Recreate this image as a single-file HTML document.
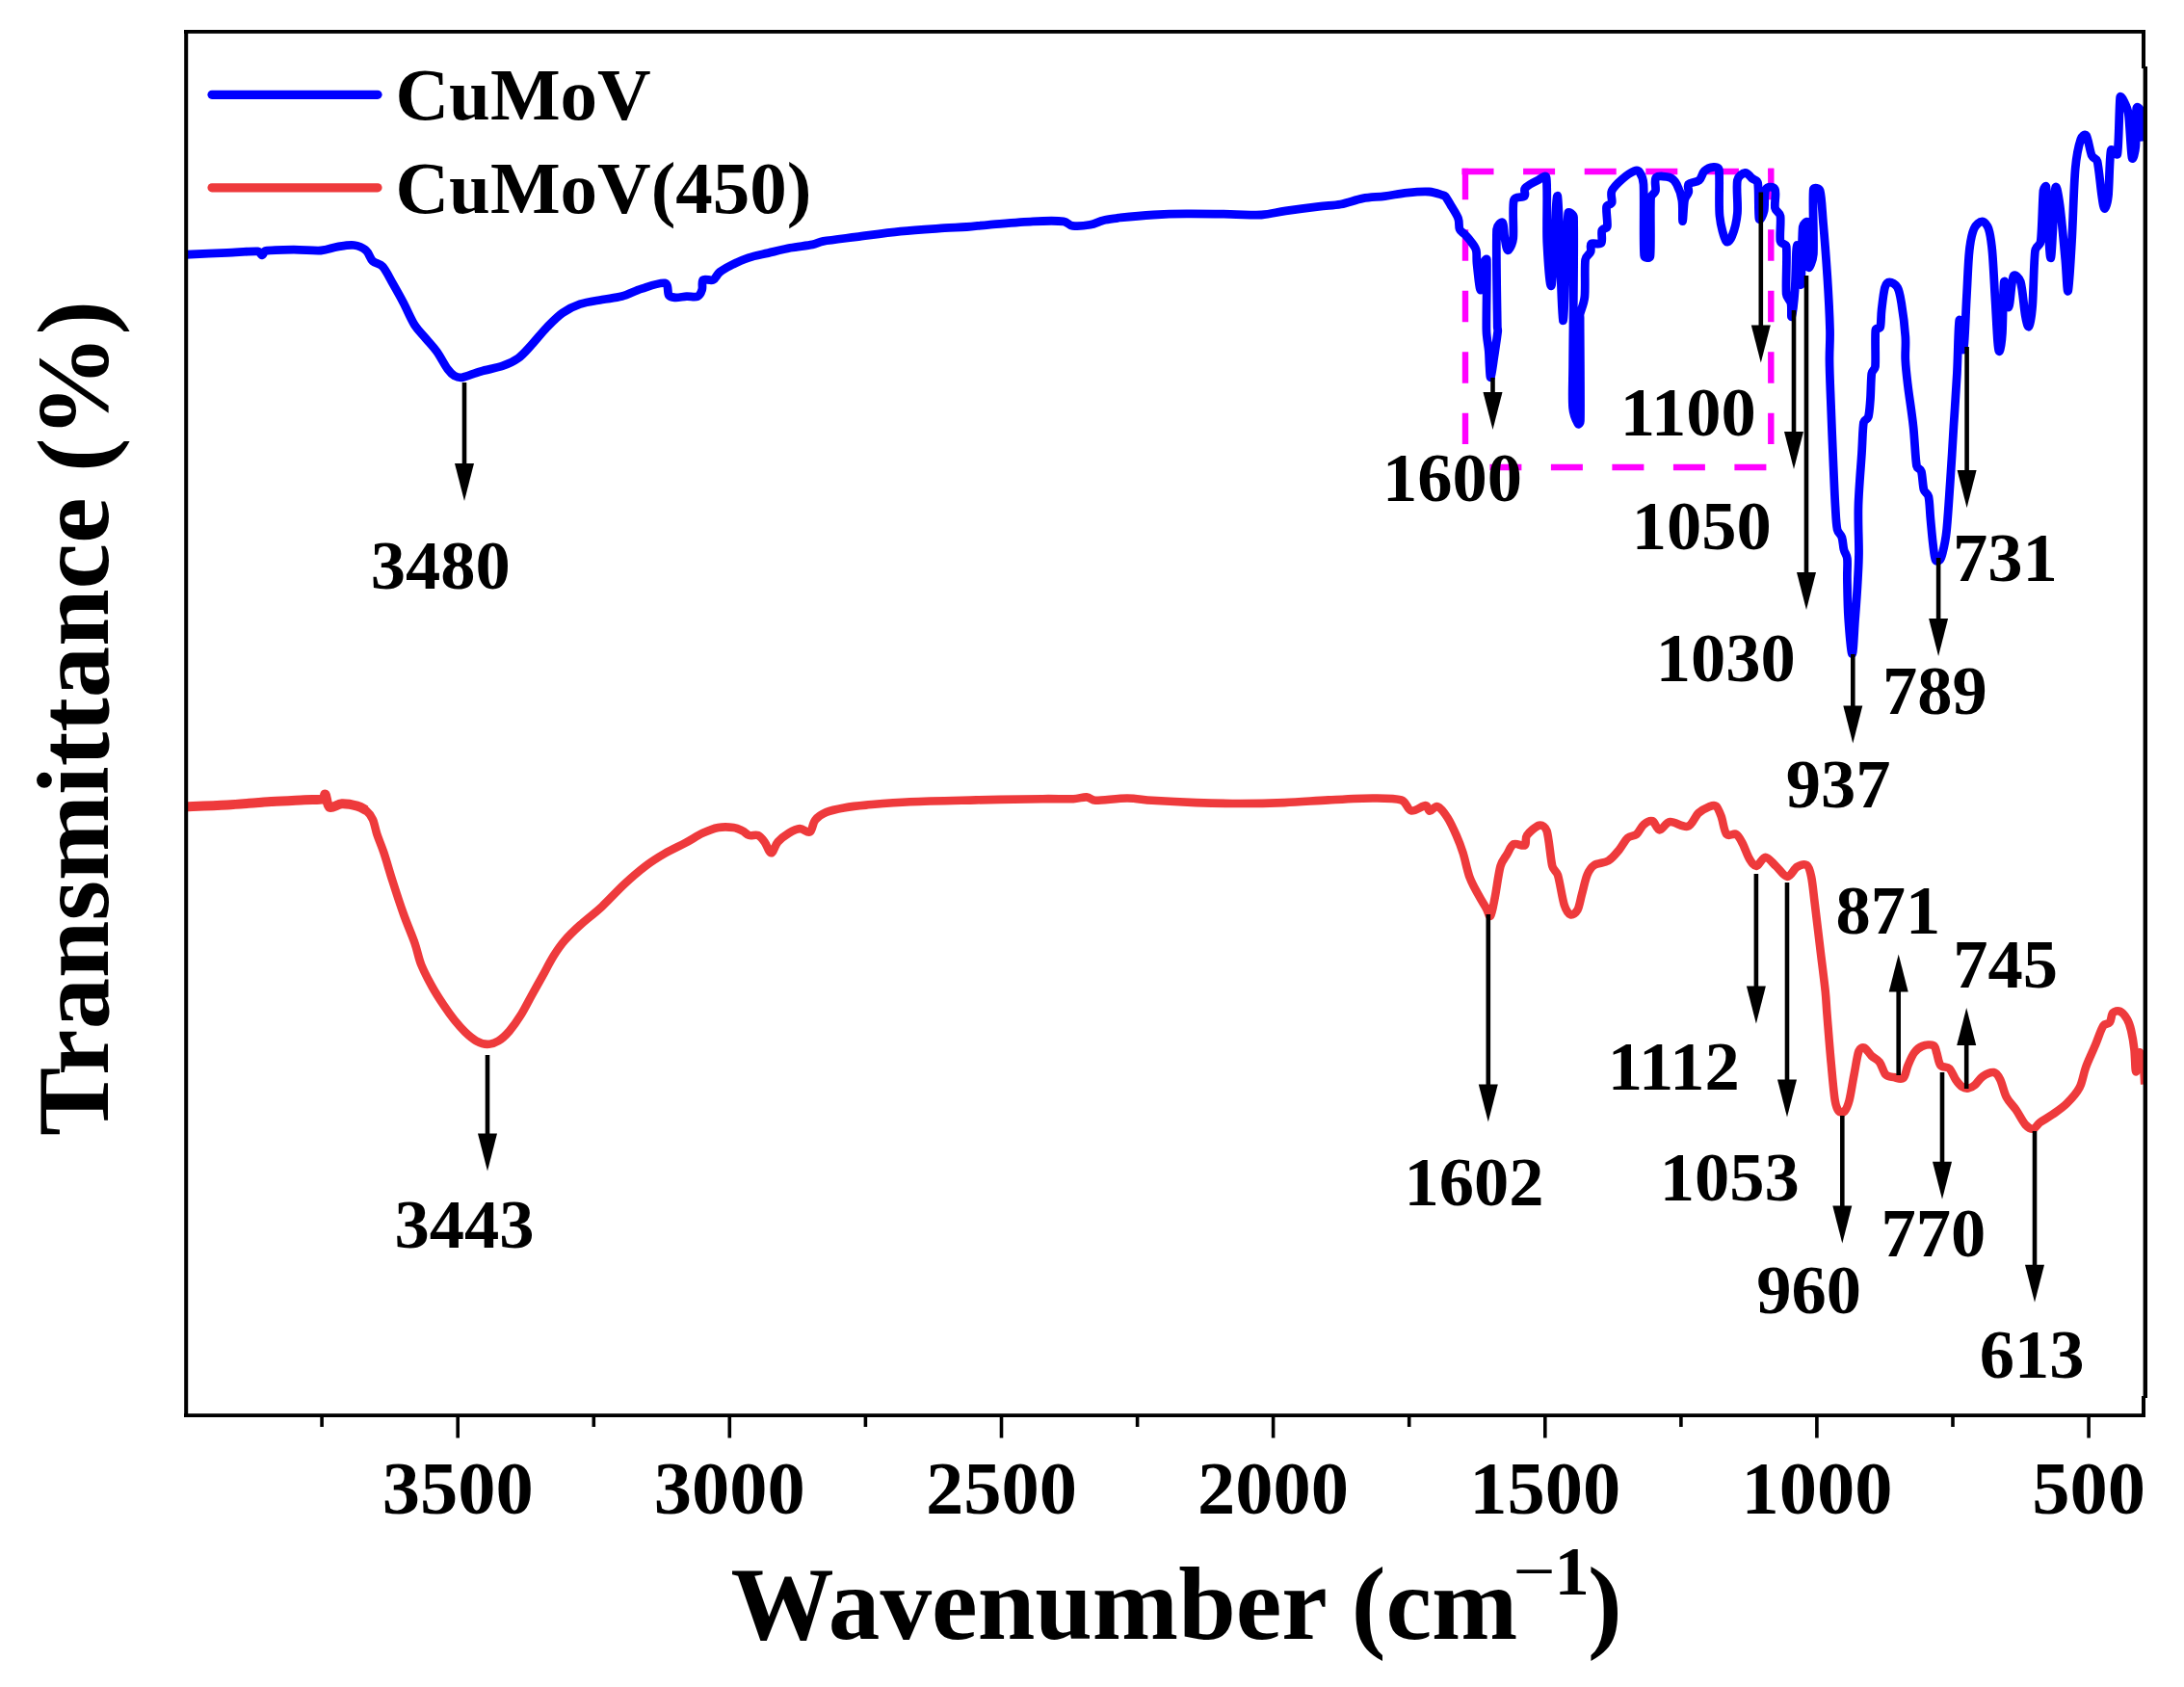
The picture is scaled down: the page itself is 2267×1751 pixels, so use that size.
<!DOCTYPE html>
<html><head><meta charset="utf-8"><title>FTIR spectra</title>
<style>
html,body{margin:0;padding:0;background:#fff;}
svg{display:block;}
text{font-family:"Liberation Serif","Times New Roman",serif;font-weight:bold;fill:#000;}
.ann{font-size:72.5px;text-anchor:middle;}
.tick{font-size:78.5px;text-anchor:middle;}
.leg{font-size:77px;}
.axl{font-size:107.2px;}
.sup{font-size:72.5px;}
.axy{font-size:106.8px;}
</style></head><body>
<svg width="2267" height="1751" viewBox="0 0 2267 1751">
<rect width="2267" height="1751" fill="#fff"/>
<!-- magenta dashed box -->
<g stroke="#ff00ff" stroke-width="6.4" fill="none">
<line x1="1517.5" y1="178" x2="1841" y2="178" stroke-dasharray="33 30.6"/>
<line x1="1521" y1="174.7" x2="1521" y2="461" stroke-dasharray="32.5 31"/>
<line x1="1838.3" y1="174.7" x2="1838.3" y2="461" stroke-dasharray="32.5 31"/>
<line x1="1546.4" y1="485" x2="1834" y2="485" stroke-dasharray="33 30.5"/>
</g>
<!-- curves -->
<clipPath id="plotclip"><rect x="193" y="33" width="2033.5" height="1436"/></clipPath>
<g clip-path="url(#plotclip)">
<path d="M191.8,837.3 C199.1,837.0 220.8,836.4 235.8,835.5 C250.8,834.6 268.2,833.0 281.6,832.1 C295.0,831.2 306.9,830.7 315.9,830.2 C323.7,829.8 331.8,830.2 335.4,829.3 C337.4,828.8 336.6,823.3 337.7,824.7 C338.8,826.1 339.3,836.2 342.2,837.8 C345.1,839.4 350.0,834.5 354.8,834.3 C359.6,834.1 366.7,835.5 370.9,836.6 C374.8,837.7 378.5,840.4 380.0,841.2" fill="none" stroke="#ee3a3c" stroke-width="10" stroke-linejoin="round"/>
<path d="M191.8,837.3 C199.1,837.0 220.8,836.4 235.8,835.5 C250.8,834.6 268.2,833.0 281.6,832.1 C295.0,831.2 306.9,830.7 315.9,830.2 C323.7,829.8 331.8,830.2 335.4,829.3 C337.4,828.8 336.6,823.3 337.7,824.7 C338.8,826.1 339.3,836.2 342.2,837.8 C345.1,839.4 350.0,834.5 354.8,834.3 C359.6,834.1 366.7,835.5 370.9,836.6 C374.8,837.7 377.3,838.9 380.0,841.2 C382.7,843.5 385.0,846.2 386.9,850.4 C388.8,854.6 389.6,860.7 391.5,866.4 C393.4,872.1 395.8,877.3 398.3,884.7 C401.0,892.7 404.1,903.8 407.5,914.5 C410.9,925.2 415.1,938.1 418.9,948.8 C422.7,959.5 427.3,969.8 430.4,978.6 C433.5,987.4 434.2,993.9 437.3,1001.5 C440.4,1009.1 444.9,1017.5 448.7,1024.4 C452.5,1031.3 456.3,1037.0 460.1,1042.7 C463.9,1048.4 467.8,1053.9 471.6,1058.7 C475.4,1063.5 479.2,1067.7 483.0,1071.3 C486.8,1074.9 490.7,1078.3 494.5,1080.4 C498.3,1082.5 502.1,1083.9 505.9,1083.9 C509.7,1083.9 513.6,1082.7 517.4,1080.4 C521.2,1078.1 525.0,1074.5 528.8,1070.1 C532.6,1065.7 536.5,1060.2 540.3,1054.1 C544.1,1048.0 547.9,1040.4 551.7,1033.5 C555.5,1026.6 559.4,1019.8 563.2,1012.9 C567.0,1006.0 570.8,998.4 574.6,992.3 C578.4,986.2 581.5,981.6 586.1,976.3 C590.7,971.0 595.6,966.2 602.1,960.3 C608.6,954.4 617.4,947.9 625.0,940.8 C632.6,933.7 640.3,925.0 647.9,917.9 C655.5,910.8 663.8,903.7 670.8,898.4 C677.8,893.1 683.3,889.8 690.0,885.9 C696.7,882.0 704.6,878.5 711.2,875.0 C717.8,871.5 723.8,867.4 729.5,864.7 C735.2,862.0 740.1,860.0 745.5,859.0 C750.9,858.0 757.4,858.4 761.6,859.0 C765.5,859.5 768.0,861.1 770.7,862.4 C773.4,863.7 774.9,866.2 777.6,867.0 C780.3,867.8 784.1,865.9 786.8,867.0 C789.5,868.1 791.3,870.9 793.6,873.9 C795.9,876.9 798.2,885.3 800.5,885.3 C802.8,885.3 804.4,877.3 807.4,873.9 C810.4,870.5 815.0,867.0 818.8,864.7 C822.6,862.4 826.7,860.3 830.3,860.1 C833.9,859.9 837.9,865.1 840.6,863.6 C843.3,862.1 843.4,854.4 846.3,851.0 C849.1,847.6 852.8,845.1 857.7,843.0 C862.7,840.9 869.1,839.6 876.0,838.4 C882.9,837.2 889.7,836.4 898.9,835.6 C910.4,834.6 926.3,833.0 944.7,832.2 C963.8,831.3 990.5,830.9 1013.4,830.4 C1036.3,829.9 1065.3,829.4 1082.1,829.2 C1094.9,829.0 1106.5,829.5 1114.1,829.2 C1119.7,829.0 1124.1,827.1 1127.9,827.4 C1131.7,827.7 1133.1,830.7 1137.0,830.8 C1144.0,831.0 1160.2,828.5 1170.0,828.5 C1179.8,828.5 1185.5,830.1 1195.8,830.8 C1207.7,831.6 1226.3,832.6 1241.6,833.1 C1256.9,833.6 1272.1,834.0 1287.4,834.0 C1302.7,834.0 1318.0,833.7 1333.2,833.1 C1348.5,832.5 1363.7,831.2 1378.9,830.4 C1394.2,829.6 1412.1,828.5 1424.7,828.5 C1436.6,828.5 1447.8,828.2 1454.5,830.4 C1460.2,832.2 1460.6,840.4 1464.8,841.4 C1469.0,842.4 1476.5,836.0 1479.7,836.1 C1482.6,836.2 1482.1,841.6 1484.2,841.8 C1486.3,842.0 1489.2,836.1 1492.3,837.2 C1495.4,838.4 1499.4,843.7 1502.6,848.7 C1505.8,853.7 1509.0,860.9 1511.7,867.0 C1514.4,873.1 1516.3,878.0 1518.6,885.3 C1520.9,892.5 1522.8,903.2 1525.5,910.5 C1528.2,917.8 1531.8,923.5 1534.6,928.8 C1537.4,934.1 1540.5,938.9 1542.6,942.5 C1544.5,945.7 1545.7,952.5 1547.2,950.6 C1548.7,948.7 1550.2,939.0 1551.8,931.1 C1553.5,922.5 1555.4,906.4 1557.5,899.0 C1559.1,893.5 1562.1,890.3 1564.4,886.5 C1566.7,882.7 1568.2,877.7 1571.2,876.2 C1574.2,874.7 1580.4,878.8 1582.7,877.3 C1585.0,875.8 1582.5,870.4 1585.0,867.0 C1587.5,863.6 1594.2,857.5 1597.6,856.7 C1601.0,855.9 1604.4,858.7 1605.6,862.4 C1607.9,869.4 1609.4,891.4 1611.3,899.0 C1612.3,903.2 1615.7,904.1 1617.0,908.2 C1619.1,914.9 1621.5,932.4 1623.7,939.2 C1625.2,943.8 1627.8,948.4 1630.1,949.3 C1632.4,950.2 1635.7,947.7 1637.4,944.7 C1639.4,941.2 1640.3,934.3 1642.0,928.2 C1643.7,922.1 1645.4,913.1 1647.5,908.1 C1649.4,903.5 1651.1,900.5 1654.8,898.0 C1658.5,895.5 1665.2,896.0 1669.5,893.4 C1673.8,890.8 1677.1,886.4 1680.4,882.4 C1683.8,878.4 1686.5,872.4 1689.6,869.6 C1692.6,867.0 1696.0,868.2 1698.8,865.9 C1701.5,863.6 1703.4,858.2 1706.1,855.9 C1708.8,853.6 1712.5,851.3 1715.2,852.2 C1718.0,853.1 1719.5,861.2 1722.6,861.4 C1725.7,861.5 1728.7,853.7 1733.6,853.1 C1738.5,852.5 1747.0,859.2 1751.9,857.7 C1756.8,856.2 1759.2,847.4 1762.9,844.0 C1766.6,840.6 1770.8,838.7 1773.8,837.5 C1776.6,836.4 1779.0,834.9 1781.2,836.6 C1783.4,838.3 1785.0,843.0 1786.7,847.6 C1788.5,852.5 1789.6,862.9 1792.2,865.9 C1794.8,868.9 1799.5,864.4 1802.2,865.9 C1804.9,867.4 1806.5,871.2 1808.6,875.1 C1810.9,879.4 1813.5,887.6 1816.0,891.6 C1818.2,895.1 1820.5,899.2 1823.3,898.9 C1826.0,898.6 1829.2,889.7 1832.5,889.7 C1835.8,889.7 1839.6,895.5 1843.4,898.9 C1847.2,902.3 1851.6,909.8 1855.3,909.9 C1859.0,910.0 1862.0,901.8 1865.4,899.8 C1868.8,897.8 1873.0,896.3 1875.5,898.0 C1878.0,899.7 1879.1,904.9 1880.1,909.9 C1881.5,916.5 1882.3,926.4 1883.7,937.4 C1885.2,949.6 1887.4,968.0 1889.2,983.2 C1891.0,998.5 1893.5,1017.3 1894.7,1028.9 C1895.7,1038.5 1895.7,1043.4 1896.5,1053.0 C1897.5,1065.2 1899.2,1087.6 1900.6,1102.4 C1902.0,1117.2 1903.3,1133.5 1904.7,1142.0 C1905.5,1146.8 1907.2,1151.6 1908.8,1153.5 C1910.3,1155.3 1913.0,1155.2 1914.6,1153.5 C1916.4,1151.6 1918.3,1146.9 1919.6,1142.0 C1921.2,1135.7 1922.8,1124.1 1924.5,1115.6 C1926.2,1107.1 1927.7,1095.6 1929.5,1090.9 C1930.4,1088.4 1933.0,1086.8 1935.2,1087.6 C1937.4,1088.4 1940.0,1093.3 1942.6,1095.8 C1945.2,1098.3 1948.4,1099.1 1950.9,1102.4 C1953.4,1105.7 1955.0,1113.0 1957.5,1115.6 C1959.9,1118.1 1962.7,1117.5 1965.7,1118.1 C1968.7,1118.6 1973.1,1121.0 1975.6,1118.9 C1978.1,1116.8 1978.6,1110.1 1980.5,1105.7 C1982.4,1101.3 1984.6,1095.8 1987.1,1092.5 C1989.6,1089.2 1992.1,1087.1 1995.4,1085.9 C1998.7,1084.7 2004.4,1084.0 2006.9,1085.1 C2009.4,1086.2 2009.1,1089.4 2010.2,1092.5 C2011.4,1095.9 2012.1,1103.0 2014.3,1105.7 C2016.5,1108.5 2020.8,1106.5 2023.4,1109.0 C2026.0,1111.5 2027.8,1117.3 2030.0,1120.5 C2032.2,1123.7 2034.4,1126.5 2036.6,1128.0 C2038.8,1129.5 2041.0,1129.9 2043.2,1129.6 C2045.4,1129.3 2047.5,1128.2 2049.8,1126.3 C2052.3,1124.2 2054.7,1119.5 2058.0,1117.3 C2061.3,1115.1 2066.6,1112.6 2069.6,1113.1 C2072.6,1113.6 2074.4,1117.0 2076.2,1120.5 C2078.4,1124.8 2080.0,1133.5 2082.7,1138.7 C2085.4,1143.9 2089.3,1147.1 2092.6,1151.9 C2095.9,1156.7 2099.5,1164.2 2102.5,1167.5 C2105.0,1170.2 2108.3,1172.0 2110.8,1171.6 C2113.3,1171.2 2114.4,1167.3 2117.4,1165.1 C2120.7,1162.6 2125.8,1160.1 2130.5,1156.8 C2135.2,1153.5 2140.7,1150.0 2145.4,1145.3 C2150.1,1140.6 2155.3,1135.1 2158.6,1128.8 C2161.9,1122.5 2162.4,1114.8 2165.2,1107.4 C2167.9,1100.0 2172.1,1091.5 2175.1,1084.3 C2178.1,1077.1 2180.8,1068.3 2183.3,1064.5 C2184.9,1062.0 2188.2,1063.4 2189.9,1061.2 C2191.6,1059.0 2191.4,1053.2 2193.2,1051.3 C2195.0,1049.4 2198.1,1048.6 2200.6,1049.7 C2203.1,1050.8 2206.1,1054.6 2208.0,1057.9 C2209.9,1061.2 2211.0,1064.7 2212.1,1069.5 C2213.3,1074.7 2214.6,1082.1 2215.4,1089.2 C2216.2,1096.3 2216.3,1111.8 2217.1,1112.3 C2217.9,1112.8 2219.2,1094.2 2220.4,1092.5 C2221.6,1090.8 2223.8,1098.2 2224.5,1102.4 C2225.5,1107.9 2225.9,1121.7 2226.2,1125.5" fill="none" stroke="#ee3a3c" stroke-width="8.6" stroke-linejoin="round" stroke-linecap="butt"/>
<path d="M191.8,264.3 C199.1,264.0 223.1,262.9 235.8,262.3 C248.5,261.7 261.8,260.5 267.8,260.9 C270.1,261.1 270.6,264.9 272.0,264.8 C273.4,264.7 273.6,260.8 275.9,260.4 C281.3,259.4 295.0,259.2 304.5,259.1 C314.0,259.0 325.5,260.5 333.1,260.0 C340.1,259.5 344.6,257.0 350.3,256.1 C356.0,255.2 362.4,253.8 367.4,254.5 C372.3,255.2 376.8,257.2 380.0,260.0 C383.2,262.8 384.0,268.2 386.9,271.0 C389.8,273.8 394.1,273.2 397.2,276.7 C400.6,280.5 403.9,287.6 407.5,293.9 C411.1,300.2 415.1,307.2 418.9,314.5 C422.7,321.8 426.6,331.3 430.4,337.4 C434.2,343.4 438.0,346.5 441.8,351.1 C445.6,355.7 449.5,359.5 453.3,364.8 C457.1,370.1 461.6,379.0 464.7,383.2 C467.0,386.3 469.1,388.6 471.6,390.0 C474.1,391.4 476.4,392.3 479.6,391.8 C484.2,391.0 492.0,387.4 499.1,385.4 C506.2,383.4 515.5,382.0 522.0,379.7 C528.5,377.4 533.0,375.3 538.0,371.7 C543.0,368.1 546.8,363.3 551.7,358.0 C556.7,352.7 562.4,345.2 567.7,339.7 C573.1,334.2 578.1,328.8 583.8,324.8 C589.5,320.8 595.2,317.9 602.1,315.6 C609.0,313.3 617.8,312.3 625.0,311.0 C632.2,309.7 638.7,309.5 645.6,307.6 C652.5,305.7 658.8,301.9 666.2,299.6 C673.6,297.3 685.3,292.8 690.0,293.9 C694.7,295.0 692.4,304.0 694.3,306.5 C696.0,308.8 698.3,308.6 701.2,308.8 C704.3,309.0 708.9,307.9 712.7,307.7 C716.5,307.5 721.4,308.8 724.1,307.7 C726.8,306.6 727.8,303.7 728.7,300.8 C729.7,297.9 727.9,292.2 729.8,290.5 C731.7,288.8 737.2,291.8 740.1,290.5 C743.0,289.2 744.0,285.0 747.0,282.5 C750.0,280.0 753.6,278.0 758.4,275.6 C763.4,273.1 770.3,269.8 776.8,267.6 C783.3,265.4 790.1,264.3 797.4,262.6 C804.6,260.9 812.7,258.8 820.3,257.3 C827.9,255.9 837.5,255.1 843.2,253.9 C847.9,253.0 849.9,251.2 854.6,250.4 C862.2,249.1 875.5,247.6 888.9,245.9 C902.2,244.2 919.4,241.6 934.7,240.1 C950.0,238.6 969.0,237.5 980.5,236.7 C989.7,236.1 995.8,236.1 1003.4,235.5 C1011.0,234.9 1017.1,234.1 1026.3,233.3 C1037.8,232.4 1059.1,230.4 1072.1,229.8 C1084.9,229.2 1097.2,229.0 1104.1,229.8 C1108.2,230.3 1109.2,233.9 1113.3,234.4 C1117.9,235.0 1126.3,234.3 1131.6,233.3 C1136.9,232.3 1140.6,229.8 1145.3,228.7 C1150.0,227.5 1157.1,226.9 1160.0,226.4 C1161.2,226.2 1161.7,225.9 1162.9,225.8 C1169.1,225.2 1185.8,223.7 1197.2,223.0 C1208.7,222.3 1218.2,222.0 1231.6,221.9 C1245.0,221.8 1264.4,222.1 1277.4,222.3 C1290.2,222.5 1299.9,223.6 1309.4,223.0 C1318.9,222.4 1324.7,220.3 1334.6,218.9 C1344.5,217.5 1359.4,215.5 1368.9,214.3 C1378.0,213.2 1384.2,213.4 1391.8,212.0 C1399.4,210.6 1407.1,207.3 1414.7,205.9 C1422.3,204.5 1430.0,204.6 1437.6,203.6 C1445.2,202.6 1452.9,200.9 1460.5,200.1 C1468.1,199.3 1477.3,198.6 1483.4,199.0 C1489.0,199.4 1494.3,201.6 1497.1,202.4 C1498.3,202.7 1499.2,202.6 1500.0,203.6 C1501.6,205.6 1504.6,210.7 1506.9,214.6 C1509.2,218.5 1512.3,223.0 1513.7,226.9 C1515.1,230.8 1513.9,235.2 1515.1,237.9 C1516.2,240.7 1518.5,241.1 1520.6,243.4 C1522.7,245.7 1525.5,248.8 1527.5,251.6 C1529.5,254.3 1531.4,256.2 1532.3,259.9 C1533.2,263.6 1532.4,268.1 1533.0,273.6 C1533.8,280.5 1535.7,301.1 1536.8,301.1 C1537.9,301.1 1538.7,278.9 1539.8,273.6 C1540.2,271.5 1543.2,267.3 1543.3,269.5 C1543.8,280.9 1542.6,326.5 1542.9,342.3 C1543.1,351.2 1544.8,358.3 1545.3,364.3 C1545.8,369.8 1545.7,373.5 1546.0,378.1 C1546.3,382.7 1546.6,393.0 1547.4,391.8 C1548.2,390.6 1549.6,379.2 1550.8,371.2 C1552.0,363.2 1554.1,349.0 1554.7,343.7 C1554.9,342.1 1554.3,341.2 1554.3,339.6 C1554.1,322.0 1552.7,256.0 1553.6,237.9 C1553.8,234.2 1558.4,229.6 1559.8,231.0 C1561.2,232.4 1560.9,241.4 1561.8,246.2 C1562.7,251.0 1563.7,259.7 1565.2,259.9 C1566.7,260.1 1570.1,252.9 1570.7,247.5 C1571.7,238.8 1569.5,215.0 1571.4,207.7 C1572.6,203.2 1580.5,205.7 1582.4,203.6 C1584.4,201.5 1581.0,197.9 1583.1,195.3 C1585.4,192.6 1592.5,188.9 1596.2,187.1 C1599.5,185.4 1604.6,180.6 1605.1,184.3 C1606.7,195.1 1604.9,233.0 1605.8,251.6 C1606.7,269.3 1608.8,303.6 1610.6,295.6 C1612.4,287.6 1614.8,197.4 1616.8,203.6 C1618.8,209.8 1620.5,329.7 1622.3,332.7 C1624.1,335.7 1625.8,239.3 1627.7,221.4 C1628.0,218.6 1633.4,222.7 1633.5,225.5 C1634.3,251.9 1632.8,346.9 1632.6,379.9 C1632.5,397.3 1631.7,413.4 1632.6,423.4 C1633.2,430.3 1636.7,437.6 1638.0,439.9 C1638.7,441.2 1640.4,438.6 1640.4,437.1 C1640.8,418.8 1640.1,348.6 1640.1,330.0 C1640.1,328.3 1639.7,327.4 1640.1,325.8 C1640.9,322.1 1644.2,315.3 1644.9,308.0 C1645.8,298.6 1644.6,277.3 1645.6,269.5 C1646.1,265.6 1650.1,264.1 1651.1,261.3 C1652.1,258.6 1650.0,254.5 1651.8,253.0 C1653.6,251.5 1660.3,254.6 1662.1,252.3 C1663.9,250.0 1661.8,242.2 1662.8,239.3 C1663.7,236.7 1667.8,237.9 1668.3,235.2 C1669.1,231.1 1666.8,218.7 1667.6,214.6 C1668.1,211.9 1672.2,213.0 1673.1,210.4 C1674.0,207.7 1671.3,202.2 1673.1,198.1 C1674.9,194.0 1680.2,189.1 1684.1,185.7 C1688.0,182.3 1693.4,178.7 1696.4,177.5 C1698.5,176.7 1700.6,176.9 1701.9,178.8 C1703.5,181.1 1705.7,186.0 1706.0,191.2 C1706.8,205.6 1705.5,252.9 1706.7,265.4 C1706.9,267.9 1712.6,268.6 1712.9,266.1 C1714.1,256.0 1712.7,216.2 1713.6,204.9 C1713.9,201.6 1717.5,201.3 1718.4,198.1 C1719.3,194.7 1716.6,186.6 1719.1,184.3 C1721.6,182.0 1730.0,183.2 1733.5,184.3 C1737.0,185.5 1738.6,187.8 1740.4,191.2 C1742.5,195.1 1744.9,201.3 1745.9,207.7 C1746.9,214.1 1746.1,229.7 1746.6,229.7 C1747.0,229.7 1747.6,212.7 1748.6,207.7 C1749.3,204.1 1752.0,202.2 1752.7,199.5 C1753.4,196.8 1750.9,193.3 1752.7,191.2 C1754.5,189.1 1761.0,189.4 1763.7,187.1 C1766.5,184.8 1766.7,179.8 1769.2,177.5 C1771.7,175.2 1776.3,173.6 1778.8,173.4 C1781.2,173.2 1784.0,173.7 1784.3,176.1 C1785.3,184.6 1783.8,211.8 1785.0,224.2 C1786.1,234.9 1789.5,246.9 1791.7,250.3 C1793.5,253.1 1796.7,247.9 1797.9,244.8 C1799.9,240.0 1802.5,231.0 1803.4,221.4 C1804.3,211.8 1802.0,194.1 1803.4,187.1 C1804.3,182.7 1809.1,179.7 1811.6,179.3 C1814.1,179.0 1816.3,183.2 1818.5,185.0 C1820.7,186.8 1824.1,186.7 1824.6,189.8 C1825.8,196.8 1824.9,222.1 1826.0,226.9 C1826.8,230.7 1830.2,222.5 1831.1,218.7 C1832.2,213.7 1831.0,200.4 1832.9,196.7 C1834.7,193.3 1840.9,193.5 1842.5,196.7 C1844.1,199.9 1841.6,211.3 1842.5,215.9 C1843.3,219.8 1847.4,220.3 1848.0,224.2 C1848.9,229.9 1847.0,245.0 1848.0,250.3 C1848.6,253.6 1853.8,252.5 1854.2,255.8 C1855.2,264.9 1853.4,295.4 1854.2,305.2 C1854.5,309.5 1858.1,310.9 1859.0,314.8 C1859.9,318.7 1859.0,330.9 1859.7,328.6 C1860.4,326.3 1862.3,312.2 1863.1,301.1 C1864.0,288.7 1864.2,255.3 1865.2,254.4 C1866.2,253.5 1868.3,298.8 1869.3,295.6 C1870.3,292.4 1870.1,246.0 1871.3,235.2 C1871.6,232.6 1875.9,228.4 1876.2,231.0 C1877.1,237.9 1875.8,270.9 1876.8,276.4 C1877.8,281.7 1881.9,269.4 1882.3,264.0 C1883.2,250.7 1881.1,207.7 1882.3,196.7 C1882.6,193.9 1888.4,195.4 1889.2,198.1 C1890.9,204.1 1891.4,218.7 1892.6,232.4 C1893.9,247.3 1895.6,269.1 1896.8,287.4 C1898.0,305.7 1899.1,327.9 1899.5,342.3 C1899.8,354.9 1898.9,361.6 1899.0,373.7 C1899.1,385.8 1899.7,398.9 1900.3,414.9 C1900.9,430.9 1901.7,451.6 1902.5,469.9 C1903.3,488.2 1904.2,511.5 1905.0,524.8 C1905.6,534.7 1905.9,544.1 1907.1,549.6 C1907.9,553.3 1910.8,554.4 1911.9,557.8 C1913.0,561.2 1913.0,566.5 1913.9,570.2 C1914.8,573.9 1916.9,575.7 1917.4,579.8 C1918.0,585.0 1917.2,592.6 1917.4,601.2 C1917.6,611.6 1917.8,629.5 1918.7,642.4 C1919.6,655.3 1921.4,678.8 1922.6,678.8 C1923.8,678.8 1924.6,655.3 1925.6,642.4 C1926.6,629.5 1927.8,612.7 1928.4,601.2 C1929.0,590.2 1929.4,584.7 1929.5,573.7 C1929.6,561.0 1928.5,542.1 1929.0,524.8 C1929.5,507.5 1931.6,484.3 1932.5,469.9 C1933.3,457.3 1933.4,444.5 1934.5,438.3 C1935.0,435.4 1938.5,435.6 1939.3,432.8 C1940.5,428.9 1940.8,422.1 1941.4,414.9 C1942.0,407.3 1942.0,393.2 1942.8,387.5 C1943.3,384.4 1946.2,383.7 1946.5,380.6 C1947.2,373.1 1946.0,349.1 1946.9,342.3 C1947.2,340.1 1951.1,341.7 1951.7,339.6 C1952.7,336.2 1952.3,328.6 1953.1,321.7 C1953.9,314.8 1955.1,303.2 1956.5,298.4 C1957.3,295.6 1959.1,292.9 1961.3,292.9 C1963.5,292.9 1967.6,294.9 1969.6,298.4 C1971.7,302.0 1972.6,308.1 1973.7,314.8 C1975.1,323.3 1977.1,339.4 1977.8,349.2 C1978.5,359.0 1977.3,365.0 1977.8,373.7 C1978.2,382.4 1979.2,390.2 1980.5,401.2 C1981.9,412.6 1984.5,428.7 1986.0,442.4 C1987.5,456.1 1988.1,475.8 1989.5,483.6 C1990.0,486.5 1993.5,486.3 1994.3,489.1 C1995.5,493.2 1995.8,504.0 1997.0,508.4 C1997.9,511.6 2001.1,512.0 2001.8,515.2 C2003.0,520.2 2003.1,530.1 2003.9,538.6 C2004.7,547.1 2005.7,558.9 2006.6,566.0 C2007.3,572.1 2007.9,578.7 2009.1,581.2 C2009.8,582.8 2012.3,582.4 2013.5,581.2 C2014.7,580.1 2015.6,577.2 2016.3,574.3 C2017.5,569.5 2019.5,561.2 2020.4,552.3 C2021.8,539.5 2023.2,515.7 2024.5,497.4 C2025.8,479.1 2026.8,460.7 2027.9,442.4 C2029.1,424.1 2030.4,405.9 2031.4,387.5 C2032.4,369.1 2032.7,336.4 2033.8,332.3 C2034.9,328.2 2036.9,366.7 2038.2,362.6 C2039.5,358.5 2040.4,324.7 2041.4,307.6 C2042.4,290.5 2042.9,271.9 2044.2,260.2 C2045.2,250.9 2046.8,242.4 2049.0,237.4 C2050.8,233.2 2055.0,229.9 2057.5,229.9 C2060.0,229.9 2062.8,233.6 2064.1,237.4 C2065.8,242.4 2067.0,251.0 2067.9,260.2 C2069.0,271.9 2069.9,291.8 2070.8,307.6 C2071.8,323.4 2072.8,345.5 2073.6,355.0 C2073.9,358.9 2074.7,366.1 2075.5,364.5 C2076.3,362.9 2077.9,353.2 2078.4,345.6 C2079.2,333.6 2079.2,296.8 2080.3,292.4 C2081.4,288.0 2083.4,319.9 2085.0,319.0 C2086.6,318.1 2087.8,291.2 2089.8,286.8 C2091.4,283.4 2096.2,288.8 2097.3,292.4 C2099.4,299.0 2100.7,318.9 2102.1,326.6 C2103.0,331.7 2104.6,340.5 2105.9,338.9 C2107.2,337.3 2109.0,325.9 2109.7,317.1 C2110.8,304.0 2111.1,271.3 2112.5,260.2 C2113.1,255.8 2117.6,255.1 2118.2,250.7 C2119.6,240.3 2120.1,207.1 2121.0,197.6 C2121.2,195.7 2123.7,191.9 2123.9,193.8 C2125.2,205.5 2127.0,267.5 2128.6,267.8 C2130.2,268.1 2131.8,204.9 2133.4,195.7 C2134.6,188.7 2137.1,205.8 2138.1,212.8 C2139.8,225.1 2142.4,254.8 2143.8,269.7 C2145.0,282.6 2145.6,305.1 2146.7,301.9 C2147.8,298.7 2149.3,271.2 2150.5,250.7 C2151.8,229.5 2152.6,192.5 2154.2,174.8 C2155.3,162.5 2158.0,150.2 2159.9,144.5 C2160.8,141.9 2164.1,138.4 2165.6,140.7 C2167.5,143.5 2169.4,157.2 2171.3,161.6 C2172.6,164.6 2176.2,164.2 2177.0,167.3 C2178.7,174.2 2180.4,195.1 2181.7,203.3 C2182.5,208.7 2183.5,216.6 2184.6,216.6 C2185.7,216.6 2187.8,208.8 2188.4,203.3 C2189.5,193.2 2189.6,163.2 2191.2,155.9 C2191.9,152.9 2197.4,162.7 2197.9,159.7 C2199.5,150.5 2199.6,110.1 2200.7,100.9 C2201.0,98.8 2203.5,102.8 2204.5,104.7 C2205.9,107.5 2208.5,112.3 2209.3,117.9 C2210.7,127.7 2211.8,157.8 2213.0,163.5 C2214.0,168.2 2216.4,156.9 2216.8,152.1 C2217.6,143.5 2216.7,117.9 2217.8,112.2 C2218.4,109.0 2222.8,114.8 2223.5,117.9 C2224.8,123.6 2225.4,141.7 2225.8,146.4" fill="none" stroke="#0000ff" stroke-width="8.8" stroke-linejoin="round" stroke-linecap="butt"/>
</g>
<!-- frame -->
<g fill="#000">
<rect x="191" y="31" width="2036" height="3.8"/>
<rect x="191" y="1467.2" width="2036" height="3.8"/>
<rect x="191.2" y="31" width="4" height="1440"/>
<rect x="2223" y="31" width="4" height="40"/><rect x="2224.6" y="69" width="4.4" height="1382"/><rect x="2223" y="1449" width="4" height="22"/>
</g>
<line x1="2168.1" y1="1469" x2="2168.1" y2="1492.5" stroke="#000" stroke-width="3.6"/>
<text x="2168.1" y="1571" class="tick">500</text>
<line x1="1885.9" y1="1469" x2="1885.9" y2="1492.5" stroke="#000" stroke-width="3.6"/>
<text x="1885.9" y="1571" class="tick">1000</text>
<line x1="1603.8" y1="1469" x2="1603.8" y2="1492.5" stroke="#000" stroke-width="3.6"/>
<text x="1603.8" y="1571" class="tick">1500</text>
<line x1="1321.6" y1="1469" x2="1321.6" y2="1492.5" stroke="#000" stroke-width="3.6"/>
<text x="1321.6" y="1571" class="tick">2000</text>
<line x1="1039.5" y1="1469" x2="1039.5" y2="1492.5" stroke="#000" stroke-width="3.6"/>
<text x="1039.5" y="1571" class="tick">2500</text>
<line x1="757.3" y1="1469" x2="757.3" y2="1492.5" stroke="#000" stroke-width="3.6"/>
<text x="757.3" y="1571" class="tick">3000</text>
<line x1="475.2" y1="1469" x2="475.2" y2="1492.5" stroke="#000" stroke-width="3.6"/>
<text x="475.2" y="1571" class="tick">3500</text>
<line x1="2027.0" y1="1469" x2="2027.0" y2="1481" stroke="#000" stroke-width="3.6"/>
<line x1="1744.9" y1="1469" x2="1744.9" y2="1481" stroke="#000" stroke-width="3.6"/>
<line x1="1462.7" y1="1469" x2="1462.7" y2="1481" stroke="#000" stroke-width="3.6"/>
<line x1="1180.6" y1="1469" x2="1180.6" y2="1481" stroke="#000" stroke-width="3.6"/>
<line x1="898.4" y1="1469" x2="898.4" y2="1481" stroke="#000" stroke-width="3.6"/>
<line x1="616.3" y1="1469" x2="616.3" y2="1481" stroke="#000" stroke-width="3.6"/>
<line x1="334.1" y1="1469" x2="334.1" y2="1481" stroke="#000" stroke-width="3.6"/>
<!-- legend -->
<line x1="220" y1="98.3" x2="392" y2="98.3" stroke="#0000ff" stroke-width="9.2" stroke-linecap="round"/>
<line x1="220" y1="194.8" x2="392" y2="194.8" stroke="#ee3a3c" stroke-width="9.2" stroke-linecap="round"/>
<text x="410.5" y="124.1" class="leg">CuMoV</text>
<text x="410.5" y="220.6" class="leg">CuMoV(450)</text>
<!-- arrows -->
<line x1="482" y1="397" x2="482" y2="485.0" stroke="#000" stroke-width="4.6"/>
<polygon points="472.0,481.0 492.0,481.0 482,520" fill="#000"/>
<line x1="1549.5" y1="392" x2="1549.5" y2="411.0" stroke="#000" stroke-width="4.6"/>
<polygon points="1539.5,407.0 1559.5,407.0 1549.5,446" fill="#000"/>
<line x1="1827.8" y1="199.5" x2="1827.8" y2="341.5" stroke="#000" stroke-width="4.6"/>
<polygon points="1817.8,337.5 1837.8,337.5 1827.8,376.5" fill="#000"/>
<line x1="1862" y1="322" x2="1862" y2="452.0" stroke="#000" stroke-width="4.6"/>
<polygon points="1852.0,448.0 1872.0,448.0 1862,487" fill="#000"/>
<line x1="1875" y1="286" x2="1875" y2="598.0" stroke="#000" stroke-width="4.6"/>
<polygon points="1865.0,594.0 1885.0,594.0 1875,633" fill="#000"/>
<line x1="1923.3" y1="679" x2="1923.3" y2="736.5" stroke="#000" stroke-width="4.6"/>
<polygon points="1913.3,732.5 1933.3,732.5 1923.3,771.5" fill="#000"/>
<line x1="2012.1" y1="579" x2="2012.1" y2="646.0" stroke="#000" stroke-width="4.6"/>
<polygon points="2002.1,642.0 2022.1,642.0 2012.1,681" fill="#000"/>
<line x1="2041.6" y1="360" x2="2041.6" y2="492.0" stroke="#000" stroke-width="4.6"/>
<polygon points="2031.6,488.0 2051.6,488.0 2041.6,527" fill="#000"/>
<line x1="506" y1="1095" x2="506" y2="1180.5" stroke="#000" stroke-width="4.6"/>
<polygon points="496.0,1176.5 516.0,1176.5 506,1215.5" fill="#000"/>
<line x1="1544.8" y1="949" x2="1544.8" y2="1129.6" stroke="#000" stroke-width="4.6"/>
<polygon points="1534.8,1125.6 1554.8,1125.6 1544.8,1164.6" fill="#000"/>
<line x1="1822.9" y1="907" x2="1822.9" y2="1027.5" stroke="#000" stroke-width="4.6"/>
<polygon points="1812.9,1023.5 1832.9,1023.5 1822.9,1062.5" fill="#000"/>
<line x1="1855" y1="916" x2="1855" y2="1124.5" stroke="#000" stroke-width="4.6"/>
<polygon points="1845.0,1120.5 1865.0,1120.5 1855,1159.5" fill="#000"/>
<line x1="1912.3" y1="1158" x2="1912.3" y2="1255.5" stroke="#000" stroke-width="4.6"/>
<polygon points="1902.3,1251.5 1922.3,1251.5 1912.3,1290.5" fill="#000"/>
<line x1="2016" y1="1113" x2="2016" y2="1209.7" stroke="#000" stroke-width="4.6"/>
<polygon points="2006.0,1205.7 2026.0,1205.7 2016,1244.7" fill="#000"/>
<line x1="2112" y1="1174" x2="2112" y2="1316.8" stroke="#000" stroke-width="4.6"/>
<polygon points="2102.0,1312.8 2122.0,1312.8 2112,1351.8" fill="#000"/>
<line x1="1970.7" y1="1116" x2="1970.7" y2="1025.5" stroke="#000" stroke-width="4.6"/>
<polygon points="1960.7,1029.5 1980.7,1029.5 1970.7,990.5" fill="#000"/>
<line x1="2041.2" y1="1130" x2="2041.2" y2="1081.0" stroke="#000" stroke-width="4.6"/>
<polygon points="2031.2,1085.0 2051.2,1085.0 2041.2,1046" fill="#000"/>
<!-- annotations -->
<text x="457.3" y="611.1" class="ann">3480</text>
<text x="1507.4" y="520.3" class="ann">1600</text>
<text x="1752.3" y="451.5" class="ann">1100</text>
<text x="1766.2" y="569.7" class="ann">1050</text>
<text x="1791.3" y="706.5" class="ann">1030</text>
<text x="1908.0" y="837.7" class="ann">937</text>
<text x="2008.4" y="741" class="ann">789</text>
<text x="2081.4" y="602.7" class="ann">731</text>
<text x="481.9" y="1294.7" class="ann">3443</text>
<text x="1530.1" y="1250.9" class="ann">1602</text>
<text x="1737.2" y="1130.8" class="ann">1112</text>
<text x="1795.2" y="1246" class="ann">1053</text>
<text x="1877.7" y="1362.8" class="ann">960</text>
<text x="2006.8" y="1303.7" class="ann">770</text>
<text x="2109.1" y="1430.1" class="ann">613</text>
<text x="1959.9" y="969.2" class="ann">871</text>
<text x="2081.5" y="1025" class="ann">745</text>
<!-- axis titles -->
<text x="758.6" y="1700.5" class="axl">Wavenumber (cm<tspan x="1570.5" y="1657" style="font-size:78px;font-weight:normal">−</tspan><tspan x="1613.5" y="1655.4" style="font-size:72.5px">1</tspan><tspan x="1648" y="1700.5">)</tspan></text>
<text transform="translate(112 1179) rotate(-90)" class="axy">Transmittance (%)</text>
</svg>
</body></html>
